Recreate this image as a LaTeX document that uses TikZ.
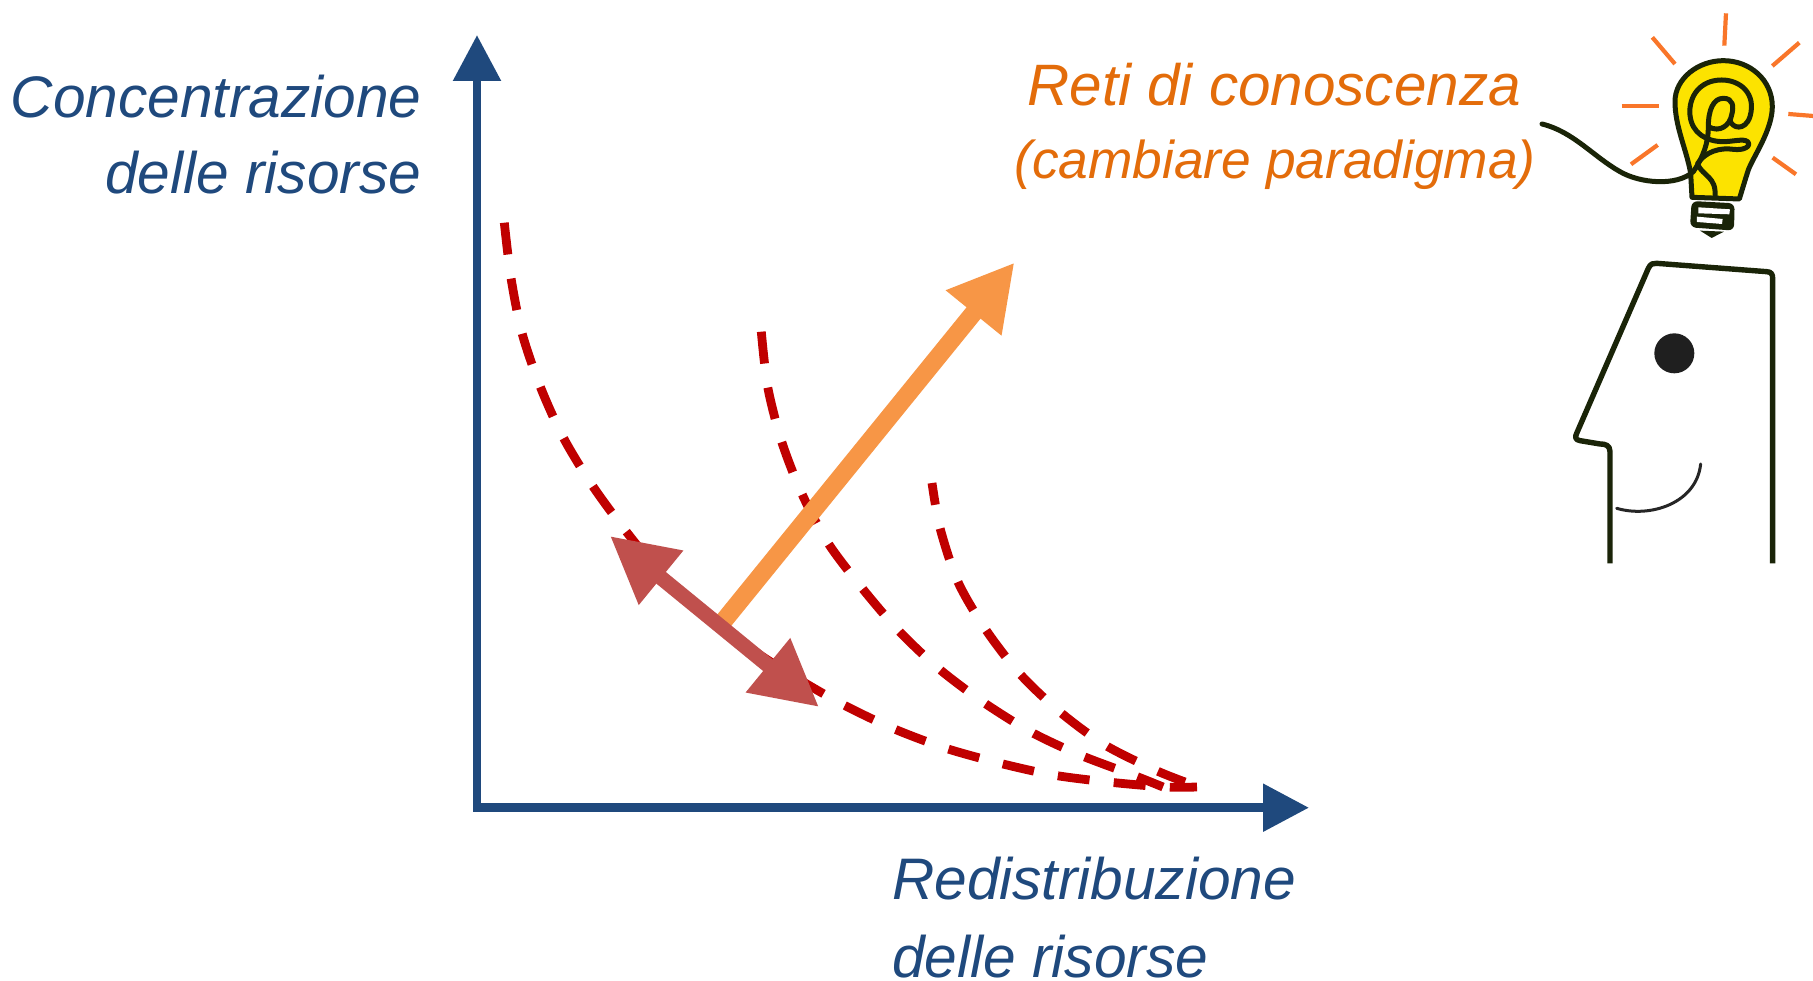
\documentclass[tikz,border=0pt]{standalone}
\usepackage{fontspec}
\setmainfont{Liberation Sans}
\usetikzlibrary{arrows.meta}
\definecolor{navy}{HTML}{1F497D}
\definecolor{orangetxt}{HTML}{E36C0A}
\definecolor{orangearr}{HTML}{F79646}
\definecolor{redarr}{HTML}{C0504D}
\definecolor{reddash}{HTML}{C00000}
\definecolor{bulbyel}{HTML}{FCE300}
\definecolor{ink}{HTML}{1A2408}
\definecolor{ray}{HTML}{F9762A}
\tikzset{
  lab/.style={font=\fontsize{58.6}{58.6}\selectfont\itshape,inner sep=0pt},
  axisarrow/.style={draw=navy,line width=8.8pt,-{Triangle[length=46pt,width=46pt,fill=navy]}},
  curvedash/.style={draw=reddash,line width=8.8pt,dash pattern=on 32pt off 24.3pt},
  orangeline/.style={draw=orangearr,line width=18pt,-{Triangle[length=65pt,width=67pt,fill=orangearr]}},
  redline/.style={draw=redarr,line width=15pt,{Triangle[length=66pt,width=66pt,fill=redarr]}-{Triangle[length=66pt,width=66pt,fill=redarr]}},
  rayline/.style={draw=ray,line width=4.2pt},
  inkline/.style={draw=ink,line width=5pt,line cap=round,line join=round},
}
\begin{document}
\begin{tikzpicture}[x=1pt,y=-1pt]
\useasboundingbox (0,0) rectangle (1813,981);
% axes
\coordinate (origin) at (477,807.7);
\coordinate (ytip) at (477,35);
\coordinate (xtip) at (1309,807.7);
\draw[axisarrow] ([yshift=-4pt]origin) -- (ytip);
\draw[axisarrow] (origin) -- (xtip);
% dashed curves
\coordinate (a1) at (504.3,222.7); \coordinate (a2) at (1197,787);
\coordinate (b1) at (761.3,331.7); \coordinate (b2) at (1163,787);
\coordinate (c1) at (932,483); \coordinate (c2) at (1185,782);
\draw[curvedash] plot[smooth,tension=0.5] coordinates {(a1) (511,278) (522,333) (540,386) (563,437) (592,485) (625,530) (665,578) (708,613) (750,648) (795,677) (842,704) (892,728) (945,748) (999,763) (1053,775) (1108,782) (1165,787) (a2)};
\draw[curvedash] plot[smooth,tension=0.5] coordinates {(b1) (767.7,387) (781.7,441.7) (802,494) (828,543) (862,588) (898,630) (938,668) (983,702) (1031,732) (1080,755) (1133,775) (b2)};
\draw[curvedash,dash phase=10pt] plot[smooth,tension=0.5] coordinates {(c1) (940,528) (958,582) (986,630) (1020,674) (1060,712) (1105,745) (1155,770) (c2)};
% arrows
\coordinate (oS) at (722,623); \coordinate (oT) at (1014.5,262.5);
\coordinate (rA) at (610,536); \coordinate (rB) at (819,707);
\draw[orangeline] (oS) -- (oT);
\draw[redline] (rA) -- (rB);
% labels
\node[lab,text=navy,anchor=base east] (yl1) at (421.5,118) {Concentrazione};
\node[lab,text=navy,anchor=base east] (yl2) at (421.5,194) {delle risorse};
\node[lab,text=navy,anchor=base west] (xl1) at (892,899.5) {Redistribuzione};
\node[lab,text=navy,anchor=base west] (xl2) at (892,977) {delle risorse};
\node[lab,text=orangetxt,anchor=base east,font=\fontsize{58.4}{58.4}\selectfont\itshape] (ol1) at (1521,106) {Reti di conoscenza};
\node[lab,text=orangetxt,anchor=base east,font=\fontsize{53.3}{53.3}\selectfont\itshape] (ol2) at (1536,179) {(cambiare paradigma)};
% bulb
\begin{scope}[shift={(1520,0)},x=0.3333pt,y=-0.3333pt]
  \draw[rayline] (618,40) -- (613,137);
  \draw[rayline] (397,112) -- (465,192);
  \draw[rayline] (838,128) -- (757,198);
  \draw[rayline] (305,318) -- (418,318);
  \draw[rayline] (805,342) -- (880,348);
  \draw[rayline] (413,435) -- (333,493);
  \draw[rayline] (758,473) -- (828,523);
  \fill[ink,rounded corners=6pt] (515,603) -- (644,610) -- (642,692) -- (510,682) -- cycle;
  \fill[white] (535,622) -- (630,628) -- (628,643) -- (535,640) -- cycle;
  \fill[white] (531,650) -- (608,657) -- (606,672) -- (531,666) -- cycle;
  \fill[ink] (540,692) -- (612,695) -- (575,714) -- cycle;
  \draw[inkline,fill=bulbyel] (516,592) -- (512,520) .. controls (500,450) and (465,380) .. (465,305)
    .. controls (465,235) and (535,182) .. (610,182) .. controls (690,182) and (757,240) .. (757,320)
    .. controls (757,390) and (700,470) .. (685,510) .. controls (672,550) and (665,575) .. (658,597) -- cycle;
  \draw[inkline] (66,372) .. controls (160,395) and (220,470) .. (300,515)
    .. controls (360,550) and (470,560) .. (520,515)
    .. controls (550,470) and (565,430) .. (565,380) .. controls (565,330) and (580,295) .. (610,295)
    .. controls (640,295) and (642,320) .. (635,345) .. controls (630,375) and (600,400) .. (565,380);
  \draw[inkline] (630,360) .. controls (635,385) and (675,395) .. (690,350)
    .. controls (710,280) and (660,240) .. (605,240) .. controls (540,240) and (505,290) .. (510,345)
    .. controls (515,400) and (560,425) .. (610,425) .. controls (640,425) and (670,415) .. (683,425)
    .. controls (695,440) and (670,452) .. (640,448) .. controls (600,442) and (555,455) .. (532,492)
    .. controls (550,530) and (590,530) .. (585,590);
\end{scope}
% head
\begin{scope}[shift={(1540,240)},x=0.3333pt,y=-0.3333pt]
  \draw[draw=ink,line width=5.4pt,line join=round] (210,970) -- (210,635) .. controls (210,615) and (195,612) .. (180,612)
    -- (120,602) .. controls (105,600) and (105,590) .. (110,580)
    -- (325,85) .. controls (332,70) and (340,70) .. (350,70)
    -- (680,95) .. controls (695,95) and (698,105) .. (698,115) -- (698,970);
  \fill[black!88] (403,340) circle[radius=60];
  \draw[black!85,line width=3pt,line cap=round] (230,805) .. controls (330,835) and (470,790) .. (482,672);
\end{scope}
\end{tikzpicture}
\end{document}
